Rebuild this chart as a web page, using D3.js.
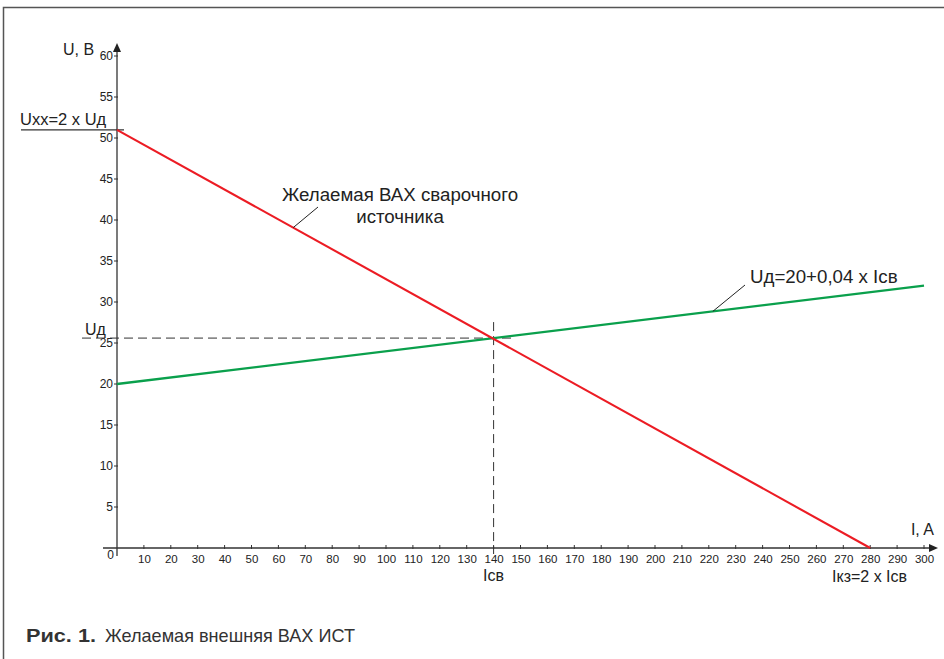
<!DOCTYPE html>
<html>
<head>
<meta charset="utf-8">
<script src="https://cdn.jsdelivr.net/npm/d3@7"></script>
<style>
  html, body { margin: 0; padding: 0; background: #fff; }
  svg { display: block; }
  text { font-family: "Liberation Sans", Arial, sans-serif; fill: #222; }
</style>
</head>
<body>
<svg id="chart" width="944" height="659"></svg>
<script>
// Current axis, A
const currentTicks = [10, 20, 30, 40, 50, 60, 70, 80, 90, 100, 110, 120, 130, 140, 150,
  160, 170, 180, 190, 200, 210, 220, 230, 240, 250, 260, 270, 280, 290, 300];
// Voltage axis, V
const voltageTicks = [5, 10, 15, 20, 25, 30, 35, 40, 45, 50, 55, 60];

// Desired source characteristic: open-circuit voltage to short-circuit current
const sourceI = [0, 280];
const sourceU = [51, 0];
// Arc load line Uд = 20 + 0.04·I
const arcI = [0, 300];
const arcU = [20, 32];
// Operating point
const weldI = 140;
const weldU = 25.6;

const svg = d3.select("#chart");

const x = d3.scaleLinear().domain([0, 300]).range([117, 924]);
const y = d3.scaleLinear().domain([0, 60]).range([548, 56]);

// page frame
svg.append("path")
  .attr("d", "M3.5,659 V7.5 H944")
  .attr("fill", "none").attr("stroke", "#555").attr("stroke-width", 1.5);

// axes
const xAxis = d3.axisBottom(x).tickValues(currentTicks).tickSize(0).tickPadding(7);
const gx = svg.append("g").attr("transform", `translate(0,${y(0)})`).call(xAxis);
gx.select(".domain").remove();
gx.selectAll("text").style("font-size", "11.5px").attr("fill", "#333");
gx.selectAll(".tickmark").data(currentTicks).enter().append("line")
  .attr("x1", d => x(d)).attr("x2", d => x(d)).attr("y1", -3).attr("y2", 1)
  .attr("stroke", "#333");

const yAxis = d3.axisLeft(y).tickValues(voltageTicks).tickSize(0).tickPadding(4);
const gy = svg.append("g").attr("transform", `translate(${x(0)},0)`).call(yAxis);
gy.select(".domain").remove();
gy.selectAll("text").style("font-size", "12px").attr("fill", "#333");
gy.selectAll(".tickmark").data(voltageTicks).enter().append("line")
  .attr("x1", -3).attr("x2", 1).attr("y1", d => y(d)).attr("y2", d => y(d))
  .attr("stroke", "#333");

// axis lines with arrows
svg.append("line").attr("x1", x(0) - 14).attr("x2", 932).attr("y1", y(0)).attr("y2", y(0))
  .attr("stroke", "#333").attr("stroke-width", 1.3);
svg.append("path").attr("d", `M938,${y(0)} l-9,-4 v8 z`).attr("fill", "#222");
svg.append("line").attr("x1", x(0)).attr("x2", x(0)).attr("y1", y(0) + 8).attr("y2", 50)
  .attr("stroke", "#333").attr("stroke-width", 1.3);
svg.append("path").attr("d", `M${x(0)},43 l-4,9 h8 z`).attr("fill", "#222");

svg.append("text").attr("x", x(0) - 3).attr("y", y(0) + 11).attr("text-anchor", "end")
  .style("font-size", "12px").attr("fill", "#333").text("0");

svg.append("text").attr("x", 63).attr("y", 55).style("font-size", "16px").text("U, B");
svg.append("text").attr("x", 934).attr("y", 535).attr("text-anchor", "end")
  .style("font-size", "16px").text("I, A");

// open-circuit voltage marker
svg.append("line").attr("x1", 21).attr("x2", x(0) + 7).attr("y1", y(sourceU[0])).attr("y2", y(sourceU[0]))
  .attr("stroke", "#333").attr("stroke-width", 1.3);
svg.append("text").attr("x", 20).attr("y", y(sourceU[0]) - 5).style("font-size", "16.5px")
  .text("Uxx=2 x Uд");

// operating point guides
svg.append("line").attr("x1", 82).attr("x2", x(weldI) + 20).attr("y1", y(weldU)).attr("y2", y(weldU))
  .attr("stroke", "#333").attr("stroke-dasharray", "9,5");
svg.append("line").attr("x1", x(weldI)).attr("x2", x(weldI)).attr("y1", y(weldU) - 16).attr("y2", y(0) + 6)
  .attr("stroke", "#333").attr("stroke-dasharray", "9,5");
svg.append("text").attr("x", 85).attr("y", y(weldU) - 3).style("font-size", "16px").text("Uд");
svg.append("text").attr("x", x(weldI)).attr("y", y(0) + 33).attr("text-anchor", "middle")
  .style("font-size", "16px").text("Iсв");
svg.append("text").attr("x", 832).attr("y", y(0) + 34)
  .style("font-size", "16px").text("Iкз=2 x Iсв");

// characteristic lines
const line = d3.line().x(d => x(d[0])).y(d => y(d[1]));
svg.append("path").datum(arcI.map((v, i) => [v, arcU[i]])).attr("d", line)
  .attr("fill", "none").attr("stroke", "#0aa04c").attr("stroke-width", 2.3);
svg.append("path").datum(sourceI.map((v, i) => [v, sourceU[i]])).attr("d", line)
  .attr("fill", "none").attr("stroke", "#ec1c24").attr("stroke-width", 2.1);

// callouts
const srcAt = i => sourceU[0] + (sourceU[1] - sourceU[0]) * i / sourceI[1];
const arcAt = i => arcU[0] + (arcU[1] - arcU[0]) * i / arcI[1];
svg.append("line").attr("x1", x(65.5)).attr("y1", y(srcAt(65.5))).attr("x2", 318).attr("y2", 207)
  .attr("stroke", "#222").attr("stroke-width", 1);
svg.append("text").attr("x", 400).attr("y", 201).attr("text-anchor", "middle")
  .style("font-size", "18.7px").text("Желаемая ВАХ сварочного");
svg.append("text").attr("x", 400).attr("y", 223).attr("text-anchor", "middle")
  .style("font-size", "18.7px").text("источника");

svg.append("line").attr("x1", x(221.5)).attr("y1", y(arcAt(221.5))).attr("x2", 745).attr("y2", 285)
  .attr("stroke", "#222").attr("stroke-width", 1);
svg.append("text").attr("x", 750).attr("y", 283).style("font-size", "18.7px").text("Uд=20+0,04 x Iсв");

// figure caption
const cap = svg.append("text").attr("x", 26).attr("y", 642).style("font-size", "19px");
cap.append("tspan").attr("font-weight", "bold").attr("fill", "#333").attr("textLength", 70)
  .attr("lengthAdjust", "spacingAndGlyphs").text("Рис. 1.");
cap.append("tspan").attr("x", 105).attr("fill", "#333").attr("textLength", 250)
  .attr("lengthAdjust", "spacingAndGlyphs").text("Желаемая внешняя ВАХ ИСТ");
</script>
</body>
</html>
